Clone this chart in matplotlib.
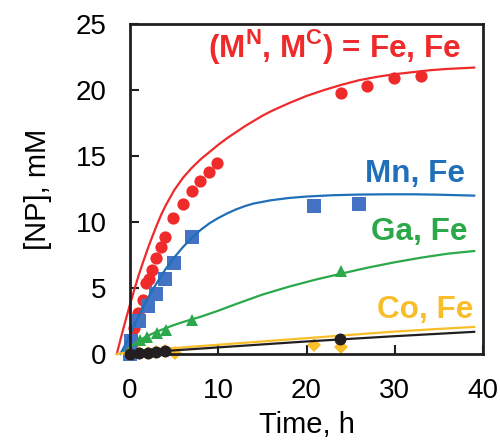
import matplotlib.pyplot as plt

plt.rcParams['font.family'] = ['Liberation Sans', 'DejaVu Sans']
plt.rcParams['mathtext.fontset'] = 'custom'
plt.rcParams['mathtext.rm'] = 'Liberation Sans'
plt.rcParams['mathtext.bf'] = 'Liberation Sans:bold'

# measured points
fe_t = [0, 0.5, 0.9, 1.5, 1.8, 2.1, 2.5, 2.9, 3.5, 4.0, 4.9, 6.0, 7.0, 7.9, 8.9, 9.9, 23.9, 26.8, 29.9, 33.0]
fe_y = [0.1, 2.0, 3.1, 4.1, 5.35, 5.7, 6.4, 7.25, 8.1, 8.9, 10.3, 11.4, 12.35, 13.1, 13.8, 14.5, 19.8, 20.3, 20.9, 21.1]
mn_t = [0, 0.1, 1.05, 2.07, 2.94, 3.95, 4.97, 6.97, 20.9, 26.0]
mn_y = [0.0, 1.0, 2.5, 3.6, 4.55, 5.7, 6.9, 8.84, 11.2, 11.4]
ga_t = [0, 1.13, 1.95, 3.1, 4.07, 6.97, 23.9]
ga_y = [0.3, 1.06, 1.3, 1.6, 1.82, 2.58, 6.3]
co_t = [0, 1, 2, 3, 4, 5.1, 20.9, 23.9]
co_y = [0.0, 0.05, 0.1, 0.15, 0.2, 0.1, 0.7, 0.55]
bk_t = [0, 1, 2, 3, 4, 23.85]
bk_y = [0.0, 0.05, 0.1, 0.15, 0.25, 1.1]

# fitted curves
fe_fit_t = [-1.5, -1, -0.5, 0, 0.5, 1, 1.5, 2, 2.5, 3, 3.5, 4, 5, 6, 7, 8, 9, 10, 11, 12, 13, 14, 15, 16,
            18, 20, 22, 24, 26, 28, 30, 32, 34, 36, 39]
fe_fit_y = [0.0, 1.3, 2.55, 3.75, 4.9, 6.0, 7.0, 7.95, 8.85, 9.7, 10.5, 11.2, 12.4, 13.35, 14.1, 14.75,
            15.3, 15.85, 16.35, 16.8, 17.25, 17.65, 18.05, 18.4, 19.0, 19.55, 20.0, 20.4, 20.75, 21.0,
            21.2, 21.35, 21.5, 21.6, 21.7]
mn_fit_t = [-1.1, -0.5, 0, 0.5, 1, 1.5, 2, 2.5, 3, 4, 5, 6, 7, 8, 9, 10, 11, 12, 13, 14, 16, 18, 20, 23,
            26, 29, 32, 35, 39]
mn_fit_y = [0.0, 0.75, 1.45, 2.2, 2.9, 3.55, 4.2, 4.8, 5.35, 6.4, 7.3, 8.1, 8.8, 9.4, 9.9, 10.3, 10.65,
            10.95, 11.2, 11.4, 11.65, 11.82, 11.93, 12.03, 12.08, 12.1, 12.1, 12.07, 12.0]
ga_fit_t = [-0.5, 0, 0.5, 1, 1.5, 2, 3, 4, 5, 6, 7, 8, 10, 12, 15, 18, 21, 24, 27, 30, 33, 36, 39]
ga_fit_y = [0.2, 0.5, 0.77, 1.0, 1.2, 1.38, 1.68, 1.95, 2.2, 2.42, 2.62, 2.82, 3.28, 3.78, 4.5, 5.1,
            5.63, 6.1, 6.55, 6.95, 7.3, 7.6, 7.8]
co_fit_t = [-1.5, 0, 2, 5, 10, 15, 20, 25, 30, 35, 39]
co_fit_y = [0.0, 0.15, 0.3, 0.45, 0.7, 0.95, 1.2, 1.45, 1.7, 1.9, 2.05]
bk_fit_t = [0, 10, 20, 30, 39]
bk_fit_y = [0.05, 0.5, 0.95, 1.35, 1.68]

RED = '#EE2A2B'
BLUE_M = '#4472C4'
BLUE_L = '#1F70B8'
GREEN = '#2BA84A'
YELLOW = '#F8BE2A'
BLACK = '#231F20'


def draw_series(ax, t, y, fit_t, fit_y, marker, ms, mcolor, lcolor):
    ax.plot(t, y, linestyle='none', marker=marker, markersize=ms,
            color=mcolor, markeredgewidth=0, clip_on=False)
    ax.plot(fit_t, fit_y, color=lcolor, linewidth=1.6, clip_on=False,
            solid_joinstyle='round')


def main():
    fig = plt.figure(figsize=(5, 4.45), dpi=100)
    ax = fig.add_axes([0.26, 0.2045, 0.706, 0.7415])

    draw_series(ax, fe_t, fe_y, fe_fit_t, fe_fit_y, 'o', 8.8, RED, RED)
    draw_series(ax, mn_t, mn_y, mn_fit_t, mn_fit_y, 's', 9.4, BLUE_M, BLUE_L)
    draw_series(ax, ga_t, ga_y, ga_fit_t, ga_fit_y, '^', 9.0, GREEN, GREEN)
    draw_series(ax, co_t, co_y, co_fit_t, co_fit_y, 'D', 7.0, YELLOW, YELLOW)
    draw_series(ax, bk_t, bk_y, bk_fit_t, bk_fit_y, 'o', 8.6, BLACK, BLACK)

    ax.set_xlim(0, 40)
    ax.set_ylim(0, 25)
    ax.set_xticks([0, 10, 20, 30, 40])
    ax.set_yticks([0, 5, 10, 15, 20, 25])
    for s in ax.spines.values():
        s.set_linewidth(2.0)
        s.set_color(BLACK)
    ax.tick_params(direction='in', length=6.5, width=1.5, labelsize=20, color=BLACK)
    ax.tick_params(axis='x', pad=17)
    ax.tick_params(axis='y', pad=17)

    ax.set_xlabel('Time, h', fontsize=21, labelpad=5)
    ax.set_ylabel('[NP], mM', fontsize=21, labelpad=17)

    kw = dict(ha='right', va='baseline', fontsize=22.7, fontweight='bold')
    ax.text(37.5, 22.5, r'(M$^{\mathbf{N}}$, M$^{\mathbf{C}}$) = Fe, Fe', color=RED, **kw)
    ax.text(38.0, 13.05, 'Mn, Fe', color=BLUE_L, **kw)
    ax.text(38.2, 8.64, 'Ga, Fe', color=GREEN, **kw)
    ax.text(38.9, 2.7, 'Co, Fe', color=YELLOW, **kw)

    fig.savefig('out.png', dpi=100)


if __name__ == '__main__':
    main()
